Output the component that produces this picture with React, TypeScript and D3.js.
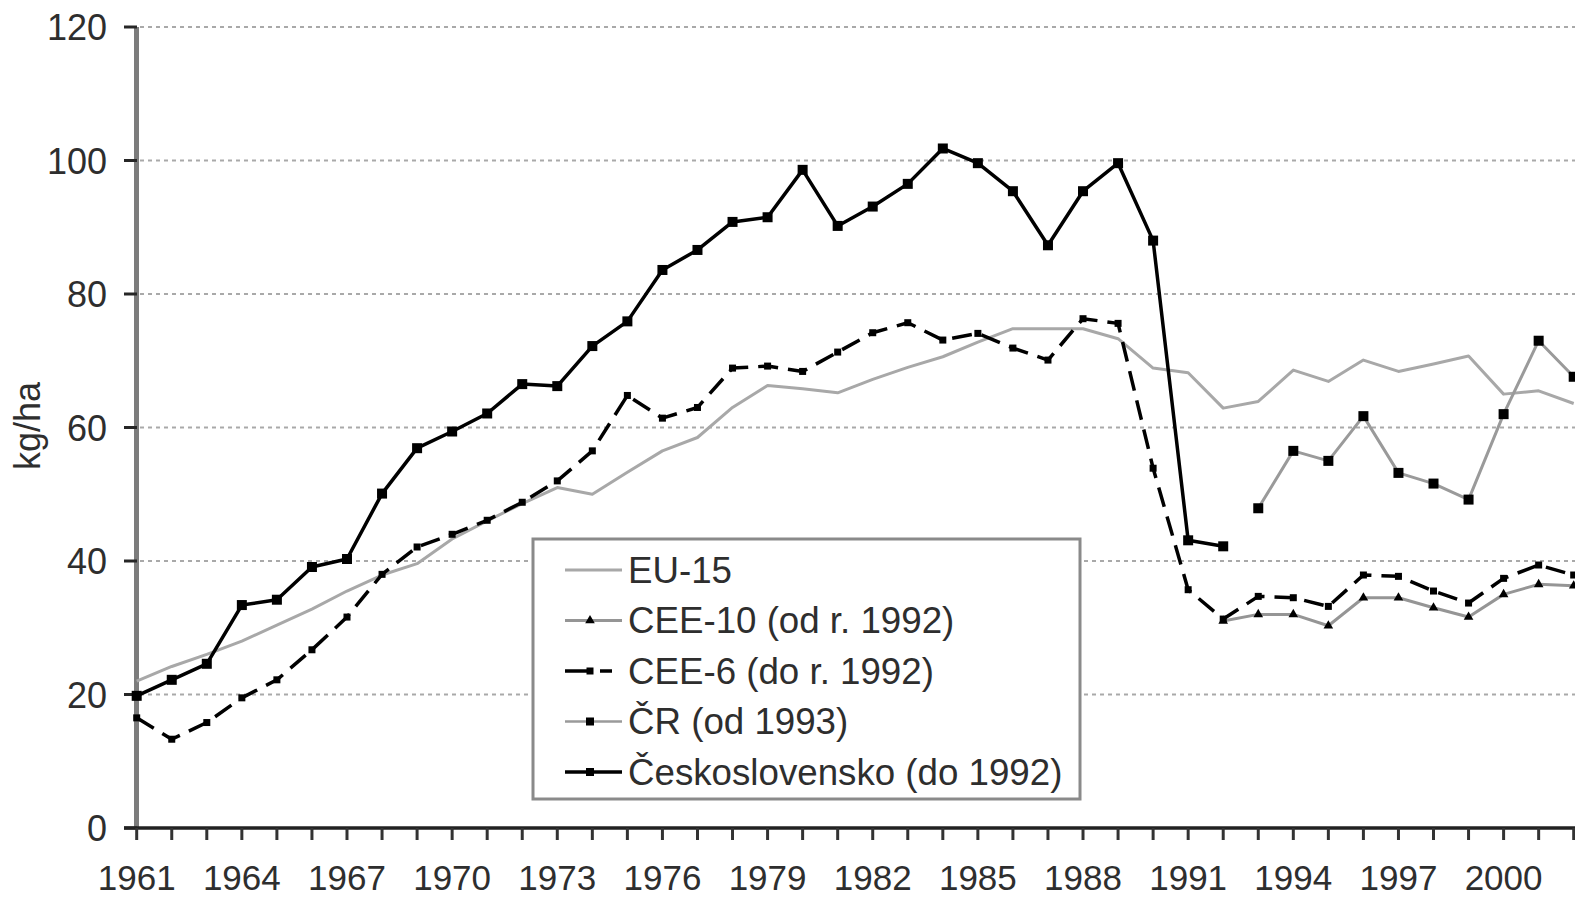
import React from 'react';
import * as d3 from 'd3';

const years = [
  1961, 1962, 1963, 1964, 1965, 1966, 1967, 1968, 1969, 1970,
  1971, 1972, 1973, 1974, 1975, 1976, 1977, 1978, 1979, 1980,
  1981, 1982, 1983, 1984, 1985, 1986, 1987, 1988, 1989, 1990,
  1991, 1992, 1993, 1994, 1995, 1996, 1997, 1998, 1999, 2000,
  2001, 2002,
];

const eu15 = [
  22.0, 24.2, 26.0, 28.0, 30.4, 32.8, 35.5, 37.9, 39.6, 43.3,
  46.0, 48.6, 51.0, 50.0, 53.3, 56.5, 58.5, 63.0, 66.3, 65.8,
  65.2, 67.2, 69.0, 70.6, 72.8, 74.8, 74.8, 74.8, 73.3, 68.9,
  68.2, 62.9, 63.9, 68.6, 66.9, 70.1, 68.4, 69.5, 70.7, 65.0,
  65.5, 63.6,
];

const cee6 = [
  16.5, 13.3, 15.8, 19.5, 22.2, 26.7, 31.6, 38.0, 42.1, 44.0,
  46.1, 48.8, 52.0, 56.5, 64.8, 61.4, 63.0, 68.9, 69.2, 68.4,
  71.3, 74.2, 75.7, 73.1, 74.1, 71.9, 70.1, 76.3, 75.6, 53.9,
  35.7, 31.3, 34.7, 34.5, 33.2, 37.9, 37.7, 35.5, 33.7, 37.4,
  39.4, 37.9,
];

const ceskoslovensko: (number | null)[] = [
  19.8, 22.2, 24.6, 33.4, 34.2, 39.1, 40.3, 50.1, 56.9, 59.4,
  62.1, 66.5, 66.2, 72.2, 75.9, 83.6, 86.6, 90.8, 91.5, 98.6,
  90.2, 93.1, 96.5, 101.8, 99.6, 95.4, 87.3, 95.4, 99.6, 88.0,
  43.1, 42.2, null, null, null, null, null, null, null, null,
  null, null,
];

const cr: (number | null)[] = [
  null, null, null, null, null, null, null, null, null, null,
  null, null, null, null, null, null, null, null, null, null,
  null, null, null, null, null, null, null, null, null, null,
  null, null, 47.9, 56.5, 55.0, 61.7, 53.2, 51.6, 49.2, 62.0,
  73.0, 67.6,
];

const cee10: (number | null)[] = [
  null, null, null, null, null, null, null, null, null, null,
  null, null, null, null, null, null, null, null, null, null,
  null, null, null, null, null, null, null, null, null, null,
  null, 31.0, 32.0, 32.0, 30.3, 34.5, 34.5, 33.0, 31.6, 35.0,
  36.5, 36.3,
];

const yTicks = [0, 20, 40, 60, 80, 100, 120];
const xLabelYears = [1961, 1964, 1967, 1970, 1973, 1976, 1979, 1982, 1985, 1988, 1991, 1994, 1997, 2000];

const legendLabels = [
  'EU-15',
  'CEE-10 (od r. 1992)',
  'CEE-6 (do r. 1992)',
  'ČR (od 1993)',
  'Československo (do 1992)',
];

const W = 1575;
const H = 899;
const FONT = '"Liberation Sans", Arial, Helvetica, sans-serif';
const TXT = '#2e2e2e';

type Pt = { year: number; v: number | null };

function toPts(vals: (number | null)[]): Pt[] {
  return years.map((year, i) => ({ year, v: vals[i] }));
}

export default function App() {
  const x = d3.scaleLinear().domain([1961, 2002]).range([136.7, 1573.7]);
  const y = d3.scaleLinear().domain([0, 120]).range([828, 27]);

  const line = d3
    .line<Pt>()
    .defined((d) => d.v !== null)
    .x((d) => x(d.year))
    .y((d) => y(d.v as number));

  const tri = d3.symbol().type(d3.symbolTriangle).size(40)() || '';

  const series = [
    { key: 'eu', data: toPts(eu15), color: '#a8a8a8', width: 3, dash: undefined as string | undefined, marker: 0, shape: 'sq' },
    { key: 'cee10', data: toPts(cee10), color: '#959595', width: 3, dash: undefined, marker: 7, shape: 'tri' },
    { key: 'cee6', data: toPts(cee6), color: '#000', width: 3.5, dash: '20,10', marker: 7, shape: 'sq' },
    { key: 'cr', data: toPts(cr), color: '#9a9a9a', width: 3, dash: undefined, marker: 10, shape: 'sq' },
    { key: 'cs', data: toPts(ceskoslovensko), color: '#000', width: 3.5, dash: undefined, marker: 10, shape: 'sq' },
  ];

  const legendRows = [570, 620.5, 671, 721.5, 772];

  return (
    <svg
      width={W}
      height={H}
      viewBox={`0 0 ${W} ${H}`}
      style={{ position: 'absolute', left: 0, top: 0, background: '#fff' }}
      fontFamily={FONT}
    >
      <rect x={0} y={0} width={W} height={H} fill="#fff" />
      <defs>
        <clipPath id="plotclip">
          <rect x={120} y={0} width={W - 120} height={H} />
        </clipPath>
      </defs>

      {/* grid lines */}
      {yTicks
        .filter((t) => t > 0)
        .map((t) => (
          <line
            key={'g' + t}
            x1={140}
            x2={W}
            y1={y(t)}
            y2={y(t)}
            stroke="#a9a9a9"
            strokeWidth={2}
            strokeDasharray="4,4"
          />
        ))}

      {/* y axis */}
      <line x1={136.5} x2={136.5} y1={y(120)} y2={y(0)} stroke="#7c7c7c" strokeWidth={5} />
      {yTicks.map((t) => (
        <line key={'yt' + t} x1={124} x2={137} y1={y(t)} y2={y(t)} stroke="#262626" strokeWidth={3} />
      ))}
      {yTicks.map((t) => (
        <text key={'yl' + t} x={107} y={y(t) + 13} textAnchor="end" fontSize={36} fill={TXT}>
          {t}
        </text>
      ))}
      <text
        transform={`translate(39.5, 426) rotate(-90)`}
        textAnchor="middle"
        fontSize={36}
        fill={TXT}
      >
        kg/ha
      </text>

      {/* x axis */}
      <line x1={124} x2={W} y1={y(0)} y2={y(0)} stroke="#222" strokeWidth={3.5} />
      {years.map((yr) => (
        <line key={'xt' + yr} x1={x(yr)} x2={x(yr)} y1={y(0)} y2={y(0) + 12} stroke="#333" strokeWidth={3} />
      ))}
      {xLabelYears.map((yr) => (
        <text key={'xl' + yr} x={x(yr)} y={890} textAnchor="middle" fontSize={35} fill={TXT}>
          {yr}
        </text>
      ))}

      {/* series */}
      <g clipPath="url(#plotclip)">
        {series.map((s) => (
          <path
            key={s.key}
            d={line(s.data) || ''}
            fill="none"
            stroke={s.color}
            strokeWidth={s.width}
            strokeDasharray={s.dash}
            strokeLinejoin="round"
          />
        ))}
        {series
          .filter((s) => s.marker > 0)
          .map((s) =>
            s.data
              .filter((d) => d.v !== null)
              .map((d) =>
                s.shape === 'tri' ? (
                  <path
                    key={s.key + d.year}
                    d={tri}
                    transform={`translate(${x(d.year)},${y(d.v as number)})`}
                    fill="#000"
                  />
                ) : (
                  <rect
                    key={s.key + d.year}
                    x={x(d.year) - s.marker / 2}
                    y={y(d.v as number) - s.marker / 2}
                    width={s.marker}
                    height={s.marker}
                    fill="#000"
                  />
                )
              )
          )}
      </g>

      {/* legend */}
      <rect x={533} y={539} width={547} height={260} fill="#fff" stroke="#8a8a8a" strokeWidth={3} />
      {/* EU-15 */}
      <line x1={565} x2={622} y1={legendRows[0]} y2={legendRows[0]} stroke="#a8a8a8" strokeWidth={3} />
      {/* CEE-10 */}
      <line x1={565} x2={622} y1={legendRows[1]} y2={legendRows[1]} stroke="#959595" strokeWidth={3} />
      <path d={tri} transform={`translate(590,${legendRows[1]})`} fill="#000" />
      {/* CEE-6 */}
      <line x1={565} x2={593} y1={legendRows[2]} y2={legendRows[2]} stroke="#000" strokeWidth={3.5} />
      <line x1={600} x2={612} y1={legendRows[2]} y2={legendRows[2]} stroke="#000" strokeWidth={3.5} />
      <rect x={586.5} y={legendRows[2] - 3.5} width={7} height={7} fill="#000" />
      {/* CR */}
      <line x1={565} x2={622} y1={legendRows[3]} y2={legendRows[3]} stroke="#9a9a9a" strokeWidth={2.5} />
      <rect x={586} y={legendRows[3] - 4} width={8} height={8} fill="#000" />
      {/* CS */}
      <line x1={565} x2={622} y1={legendRows[4]} y2={legendRows[4]} stroke="#000" strokeWidth={3.5} />
      <rect x={586} y={legendRows[4] - 4} width={8} height={8} fill="#000" />

      {legendLabels.map((lbl, i) => (
        <text key={lbl} x={628} y={legendRows[i] + 12.5} fontSize={36.7} fill={TXT}>
          {lbl}
        </text>
      ))}
    </svg>
  );
}
